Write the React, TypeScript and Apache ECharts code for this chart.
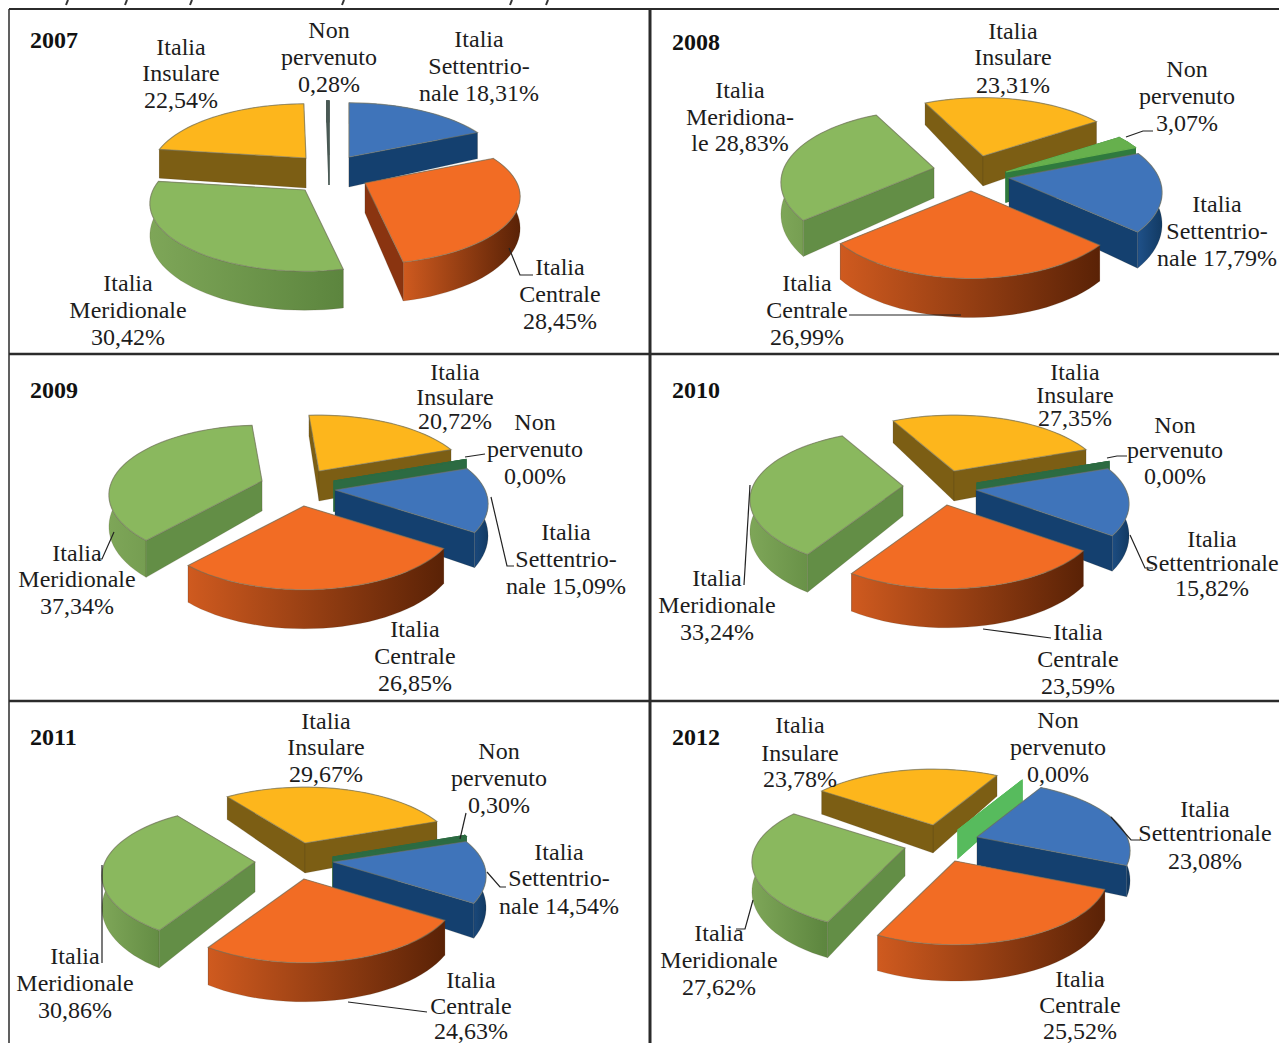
import React, { useEffect, useRef } from "react";
import * as echarts from "echarts";

const YEARS = ["2007", "2008", "2009", "2010", "2011", "2012"];
// Order of every value list: Settentrionale, Centrale, Meridionale, Insulare, Non pervenuto
const VALUES_2007 = [18.31, 28.45, 30.42, 22.54, 0.28];
const VALUES_2008 = [17.79, 26.99, 28.83, 23.31, 3.07];
const VALUES_2009 = [15.09, 26.85, 37.34, 20.72, 0.0];
const VALUES_2010 = [15.82, 23.59, 33.24, 27.35, 0.0];
const VALUES_2011 = [14.54, 24.63, 30.86, 29.67, 0.3];
const VALUES_2012 = [23.08, 25.52, 27.62, 23.78, 0.0];
const ALL_VALUES = [VALUES_2007, VALUES_2008, VALUES_2009, VALUES_2010, VALUES_2011, VALUES_2012];

const NAMES_2007 = [["Italia", "Settentrio-", "nale "], ["Italia", "Centrale", ""], ["Italia", "Meridionale", ""], ["Italia", "Insulare", ""], ["Non", "pervenuto", ""]];
const NAMES_2008 = [["Italia", "Settentrio-", "nale "], ["Italia", "Centrale", ""], ["Italia", "Meridiona-", "le "], ["Italia", "Insulare", ""], ["Non", "pervenuto", ""]];
const NAMES_2009 = [["Italia", "Settentrio-", "nale "], ["Italia", "Centrale", ""], ["Italia", "Meridionale", ""], ["Italia", "Insulare", ""], ["Non", "pervenuto", ""]];
const NAMES_2010 = [["Italia", "Settentrionale", ""], ["Italia", "Centrale", ""], ["Italia", "Meridionale", ""], ["Italia", "Insulare", ""], ["Non", "pervenuto", ""]];
const NAMES_2011 = [["Italia", "Settentrio-", "nale "], ["Italia", "Centrale", ""], ["Italia", "Meridionale", ""], ["Italia", "Insulare", ""], ["Non", "pervenuto", ""]];
const NAMES_2012 = [["Italia", "Settentrionale", ""], ["Italia", "Centrale", ""], ["Italia", "Meridionale", ""], ["Italia", "Insulare", ""], ["Non", "pervenuto", ""]];
const ALL_NAMES = [NAMES_2007, NAMES_2008, NAMES_2009, NAMES_2010, NAMES_2011, NAMES_2012];

const FONT = "'Liberation Serif', 'Times New Roman', serif";
const TEXT = "#1c1c1c";
const TOP = ["#3f74ba", "#f26c24", "#8ab85e", "#fdb61c"];
const RADIAL = ["#14406f", "#8a3410", "#638e46", "#7c5e14"];
const RIM = [["#1f5189", "#123a63"], ["#cf5a1f", "#5a2206"], ["#7ea658", "#5c853e"], ["#8a6a16", "#6a500f"]];
const DRAW_ORDER = [3, 4, 0, 2, 1];
const PERSPECTIVE = 0.2;

type Geo = {
  rx: number; ry: number; depth: number; start: number; sliver: string; sliverTop: string;
  apex: number[][]; labels: number[][]; title: number[]; leaders: number[][][];
};

const GEO: Geo[] = [
  {
    rx: 152, ry: 65, depth: 30, start: 0, sliver: "#4a5a55", sliverTop: "#4a5a55",
    apex: [[349, 157], [365, 183], [305, 190], [306, 158], [329, 155]],
    labels: [[479, 39, 66, 93], [560, 267, 294, 321], [128, 283, 310, 337], [181, 47, 73, 100], [329, 30, 57, 84]],
    title: [30, 40],
    leaders: [[[509, 248], [520, 275], [533, 275]]],
  },
  {
    rx: 150, ry: 70, depth: 30, start: 68, sliver: "#2f7a3e", sliverTop: "#66b04d",
    apex: [[1009, 178], [971, 191], [934, 168], [983, 156], [1006, 172]],
    labels: [[1217, 204, 231, 258], [807, 283, 310, 337], [740, 90, 117, 143], [1013, 31, 57, 85], [1187, 69, 96, 123]],
    title: [672, 42],
    leaders: [[[1126, 137], [1143, 131], [1153, 131]], [[849, 315], [961, 315]]],
  },
  {
    rx: 150, ry: 67, depth: 30, start: 70, sliver: "#2c6b42", sliverTop: "#2c6b42",
    apex: [[335, 490], [304, 506], [262, 481], [319, 471], [334, 481]],
    labels: [[566, 532, 559, 586], [415, 629, 656, 683], [77, 553, 579, 606], [455, 372, 397, 421], [535, 422, 449, 476]],
    title: [30, 390],
    leaders: [[[465, 457], [485, 454]], [[491, 497], [507, 566], [514, 566]], [[114, 532], [102, 559], [97, 559]]],
  },
  {
    rx: 150, ry: 67, depth: 30, start: 70, sliver: "#2c6b42", sliverTop: "#2c6b42",
    apex: [[976, 490], [947, 505], [903, 486], [954, 471], [977, 483]],
    labels: [[1212, 539, 563, 588], [1078, 632, 659, 686], [717, 578, 605, 632], [1075, 372, 395, 418], [1175, 425, 450, 476]],
    title: [672, 390],
    leaders: [[[1107, 458], [1117, 456], [1127, 456]], [[1130, 535], [1145, 568], [1153, 568]], [[983, 629], [1051, 638]], [[750, 485], [744, 585]]],
  },
  {
    rx: 150, ry: 67, depth: 30, start: 71, sliver: "#2c6b42", sliverTop: "#2c6b42",
    apex: [[333, 862], [304, 879], [255, 862], [305, 843], [333, 857]],
    labels: [[559, 852, 878, 906], [471, 980, 1006, 1031], [75, 956, 983, 1010], [326, 721, 747, 774], [499, 751, 778, 805]],
    title: [30, 737],
    leaders: [[[466, 813], [460, 839]], [[487, 872], [500, 887], [506, 887]], [[348, 1002], [427, 1012]], [[102, 865], [102, 963]]],
  },
  {
    rx: 150, ry: 67, depth: 28, start: 30, sliver: "#57bb5d", sliverTop: "#57bb5d",
    apex: [[977, 837], [955, 861], [905, 848], [933, 825], [958, 830]],
    labels: [[1205, 809, 833, 861], [1080, 979, 1005, 1031], [719, 933, 960, 987], [800, 725, 753, 779], [1058, 720, 747, 774]],
    title: [672, 737],
    leaders: [[[1111, 817], [1131, 840], [1140, 840]], [[753, 900], [745, 929], [736, 929]]],
  },
];

const fmt = (v: number) => v.toFixed(2).replace(".", ",") + "%";

function makeRender(panel: number) {
  const geo = GEO[panel];
  const values = ALL_VALUES[panel];
  const names = ALL_NAMES[panel];
  return (_p: any, api: any) => {
    const slice = api.value(0) as number;
    const value = api.value(1) as number;
    const before = values.slice(0, slice).reduce((a, b) => a + b, 0);
    const t0 = geo.start + (before * 360) / 100;
    const t1 = t0 + (value * 360) / 100;
    const [ax, ay] = geo.apex[slice];
    const vOf = (deg: number) => -Math.cos((deg * Math.PI) / 180);
    const top = (deg: number) => {
      const r = (deg * Math.PI) / 180;
      const u = Math.sin(r);
      const v = -Math.cos(r);
      const s = 1 / (1 - PERSPECTIVE * v);
      return [ax + geo.rx * u * s, ay + geo.ry * v * s];
    };
    const low = (deg: number) => {
      const p = top(deg);
      return [p[0], p[1] + geo.depth * (1 + 0.3 * vOf(deg))];
    };
    const steps = Math.max(1, Math.ceil((t1 - t0) / 3));
    const angles: number[] = [];
    for (let i = 0; i <= steps; i++) angles.push(t0 + ((t1 - t0) * i) / steps);
    const rimTop = angles.map(top);
    const rimLow = angles.map(low);
    const apexLow = [ax, ay + geo.depth];
    const isSliver = slice === 4;
    const radialFill = isSliver ? geo.sliver : RADIAL[slice];
    const rimFill = isSliver
      ? geo.sliver
      : new echarts.graphic.LinearGradient(0, 0, 1, 0, [
          { offset: 0, color: RIM[slice][0] },
          { offset: 1, color: RIM[slice][1] },
        ]);
    const topFill = isSliver ? geo.sliverTop : TOP[slice];
    const walls = [
      { points: [[ax, ay], top(t0), low(t0), apexLow], fill: radialFill },
      { points: [[ax, ay], top(t1), low(t1), apexLow], fill: radialFill },
      { points: [...rimTop, ...[...rimLow].reverse()], fill: rimFill },
    ];
    const meanY = (pts: number[][]) => pts.reduce((a, p) => a + p[1], 0) / pts.length;
    walls.sort((a, b) => meanY(a.points) - meanY(b.points));
    const children: any[] = walls.map((w) => ({
      type: "polygon",
      shape: { points: w.points },
      style: {
        fill: w.fill,
        stroke: isSliver ? geo.sliver : "rgba(60,50,30,0.25)",
        lineWidth: isSliver ? 1.2 : 0.6,
      },
    }));
    children.push({
      type: "polygon",
      shape: { points: [[ax, ay], ...rimTop] },
      style: {
        fill: topFill,
        stroke: isSliver ? geo.sliverTop : "rgba(120,120,100,0.6)",
        lineWidth: 1.2,
      },
    });
    const [lx, ...ys] = geo.labels[slice];
    names[slice].forEach((line, i) => {
      const content = i === 2 ? line + fmt(value) : line;
      children.push({
        type: "text",
        z2: 100,
        style: {
          text: content,
          x: lx,
          y: ys[i],
          align: "center",
          verticalAlign: "middle",
          fontFamily: FONT,
          fontSize: 24,
          fill: TEXT,
        },
      });
    });
    return { type: "group", children };
  };
}

function buildGraphic() {
  const els: any[] = [];
  const border = (x1: number, y1: number, x2: number, y2: number, w: number) =>
    els.push({
      type: "line", z: 10,
      shape: { x1, y1, x2, y2 },
      style: { stroke: "#2b2b2b", lineWidth: w },
    });
  border(9, 9, 1279, 9, 2);
  border(9, 354, 1279, 354, 2.5);
  border(9, 701, 1279, 701, 2.5);
  border(9, 9, 9, 1043, 1.5);
  border(650, 9, 650, 1043, 3);
  GEO.forEach((geo, i) => {
    els.push({
      type: "text", z: 10,
      style: {
        text: YEARS[i],
        x: geo.title[0],
        y: geo.title[1],
        verticalAlign: "middle",
        fontFamily: FONT,
        fontSize: 24,
        fontWeight: "bold",
        fill: "#111",
      },
    });
    geo.leaders.forEach((pts) =>
      els.push({
        type: "polyline", z: 10,
        shape: { points: pts },
        style: { stroke: "#222", lineWidth: 1.2, fill: "none" },
      })
    );
  });
  // Tails of the caption's letters, which the page cuts off above its top edge
  [67, 126, 191, 343, 511, 547].forEach((x) =>
    els.push({
      type: "line", z: 10,
      shape: { x1: x + 1, y1: 0, x2: x - 1, y2: 5 },
      style: { stroke: "#333", lineWidth: 2 },
    })
  );
  return els;
}

export default function App() {
  const ref = useRef<HTMLDivElement>(null);
  useEffect(() => {
    document.body.style.margin = "0";
    const chart = echarts.init(ref.current!, undefined, { renderer: "svg" });
    chart.setOption({
      animation: false,
      backgroundColor: "#ffffff",
      graphic: { elements: buildGraphic() },
      series: ALL_VALUES.map((values, panel) => ({
        type: "custom",
        coordinateSystem: "none",
        name: YEARS[panel],
        renderItem: makeRender(panel),
        data: DRAW_ORDER.map((s) => [s, values[s]]),
        silent: true,
      })),
    });
    return () => chart.dispose();
  }, []);
  return <div ref={ref} style={{ width: 1279, height: 1043 }} />;
}
